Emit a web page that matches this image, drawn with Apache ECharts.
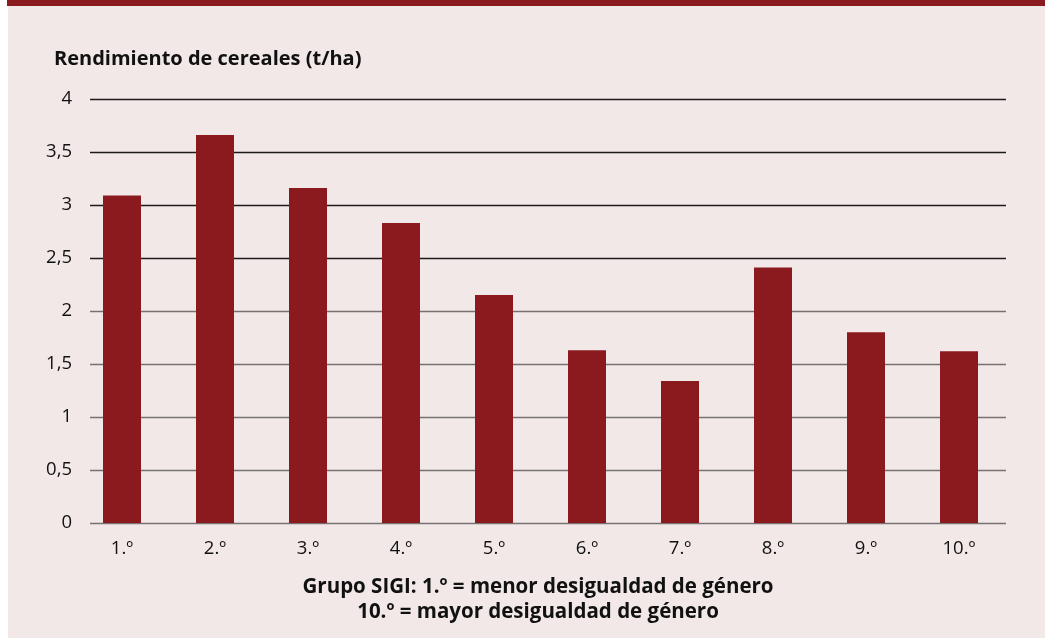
<!doctype html>
<html lang="es">
<head>
    <meta charset="UTF-8">
    <title>Rendimiento de cereales</title>
    <style>
        html, body { margin: 0; padding: 0; background: #fff; }
        #chart { width: 1045px; height: 638px; }
    </style>
    <script src="https://cdn.jsdelivr.net/npm/echarts@6/dist/echarts.min.js"></script>
</head>
<body>
<div id="chart"></div>
<script type="text/javascript">
    // datos
    var grupos = ['1.º', '2.º', '3.º', '4.º', '5.º', '6.º', '7.º', '8.º', '9.º', '10.º'];
    var rendimiento = [3.09, 3.66, 3.16, 2.83, 2.15, 1.63, 1.34, 2.41, 1.80, 1.62];
    var yTicks = [0, 0.5, 1, 1.5, 2, 2.5, 3, 3.5, 4];
    var tituloY = 'Rendimiento de cereales (t/ha)';
    var notaX = ['Grupo SIGI: 1.º = menor desigualdad de género', '10.º = mayor desigualdad de género'];

    var rojo = '#8b1a1e';
    var fuente = '"Open Sans", "Noto Sans", sans-serif';
    // las lineas de arriba salen mas oscuras en el original
    var coloresRejilla = yTicks.map(function (v) { return v >= 2.5 ? '#1e1a1a' : '#777171'; });

    var myChart = echarts.init(document.getElementById('chart'), null, {renderer: 'canvas'});
    myChart.setOption({
        backgroundColor: 'transparent',
        animation: false,
        textStyle: {fontFamily: fuente},
        graphic: [
            {type: 'rect', z: -10, shape: {x: 7, y: 0, width: 1038, height: 6}, style: {fill: rojo}},
            {type: 'rect', z: -10, shape: {x: 8, y: 6, width: 1037, height: 632}, style: {fill: '#f2e8e8'}},
            {type: 'text', x: 54, y: 49, style: {
                text: tituloY, font: 'bold 20px ' + fuente, fill: '#111'
            }},
            {type: 'text', x: 538, y: 575, style: {
                text: notaX.join('\n'), font: 'bold 20.5px ' + fuente, fill: '#111',
                textAlign: 'center', textVerticalAlign: 'top', lineHeight: 25
            }}
        ],
        grid: [
            {left: 90, right: 39, top: 99, bottom: 115},
            {left: 75.5, right: 39.5, top: 99, bottom: 115}
        ],
        xAxis: [
            {gridIndex: 0, type: 'value', show: false, min: 0, max: 1},
            {
                gridIndex: 1, type: 'category', data: grupos,
                axisLine: {show: false}, axisTick: {show: false},
                axisLabel: {color: '#111', fontSize: 18.5, margin: 16, fontFamily: fuente}
            }
        ],
        yAxis: [
            {
                gridIndex: 0, type: 'value', min: 0, max: 4, interval: 0.5,
                axisLine: {show: false}, axisTick: {show: false},
                axisLabel: {
                    color: '#111', fontSize: 18.5, margin: 18, fontFamily: fuente,
                    formatter: function (v) { return String(v).replace('.', ','); }
                },
                splitLine: {lineStyle: {color: coloresRejilla, width: 1.3}}
            },
            {gridIndex: 1, type: 'value', min: 0, max: 4, show: false}
        ],
        series: [{
            name: 'Rendimiento',
            type: 'bar',
            xAxisIndex: 1,
            yAxisIndex: 1,
            barWidth: 38,
            itemStyle: {color: rojo},
            data: rendimiento
        }]
    });
</script>
</body>
</html>
